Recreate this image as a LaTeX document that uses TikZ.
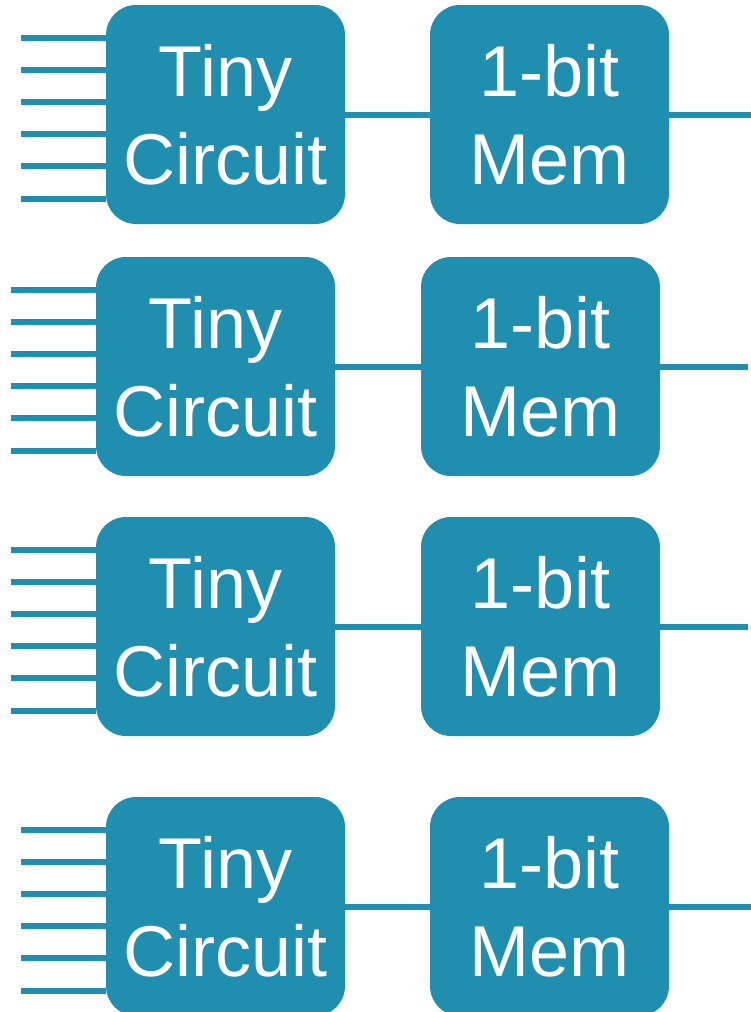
\documentclass[tikz,border=0pt]{standalone}
\usepackage{fontspec}
\setmainfont{Liberation Sans}
\definecolor{chip}{RGB}{31,142,175}
\begin{document}
\begin{tikzpicture}[x=1pt,y=-1pt,
  block/.style={fill=chip, rounded corners=30pt, minimum width=239pt,
    minimum height=219pt, inner sep=0pt, text=white, align=center,
    font=\fontsize{72}{88}\selectfont},
  wire/.style={draw=chip, line width=6pt}]
\useasboundingbox (0,0) rectangle (751,1012);
% one row: circuit block, memory cell, six inputs, one output
\foreach \r/\cx/\mx/\cy/\xin/\xout in
  {1/225.5/549.5/114.5/21/760, 2/215.5/540.5/366.5/11/748,
   3/215.5/540.5/626.5/11/748, 4/225.5/549.5/906.5/21/760} {
  \node[block] (tc\r) at (\cx,\cy) {Tiny\\Circuit};
  \node[block] (mem\r) at (\mx,\cy) {1-bit\\Mem};
  \coordinate (out\r) at (\xout,\cy);
  \draw[wire] (tc\r) -- (mem\r);
  \draw[wire] (mem\r.east) -- (out\r);
  \foreach \k in {1,...,6} {
    \pgfmathsetmacro{\yk}{\cy+3.5+(\k-3.5)*32.2}
    \coordinate (in\r\k) at (\xin,\yk);
    \draw[wire] (in\r\k) -- (in\r\k -| tc\r.west);
  }
}
\end{tikzpicture}
\end{document}
